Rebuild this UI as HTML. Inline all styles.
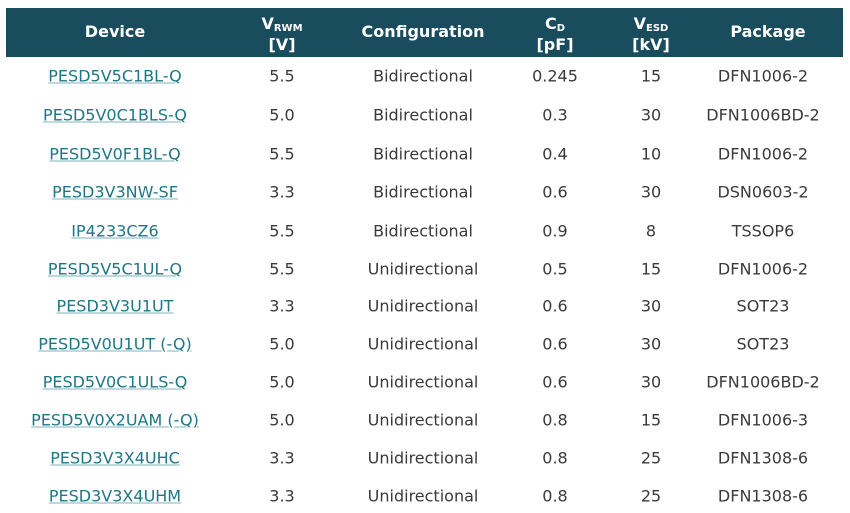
<!DOCTYPE html>
<html><head><meta charset="utf-8"><style>
body{margin:0;width:850px;height:513px;background:#fff;position:relative;overflow:hidden;font-family:"DejaVu Sans","Liberation Sans",sans-serif;}
.hd{position:absolute;left:6px;top:8px;width:837px;height:49px;background:#194c5c;}
.h{position:absolute;color:#fff;font-weight:bold;font-size:16px;text-align:center;transform:translateX(-50%);line-height:16px;white-space:nowrap}
.h sub{font-size:10px;vertical-align:-2px}
.c{position:absolute;font-size:16px;color:#3a3a3a;transform:translate(-50%,-50%);white-space:nowrap}
.l{color:#1f7686;text-decoration:underline;text-decoration-color:#7fb3bd}
</style></head><body>
<div class="hd"></div>
<div class="h" style="left:115px;top:24px">Device</div>
<div class="h" style="left:282px;top:16px">V<sub>RWM</sub><br>[V]</div>
<div class="h" style="left:423px;top:24px">Configuration</div>
<div class="h" style="left:555px;top:16px">C<sub>D</sub><br>[pF]</div>
<div class="h" style="left:651px;top:16px">V<sub>ESD</sub><br>[kV]</div>
<div class="h" style="left:768px;top:24px">Package</div>
<div id="rows"></div>
<script>
var d=[["PESD5V5C1BL-Q","5.5","Bidirectional","0.245","15","DFN1006-2"],
["PESD5V0C1BLS-Q","5.0","Bidirectional","0.3","30","DFN1006BD-2"],
["PESD5V0F1BL-Q","5.5","Bidirectional","0.4","10","DFN1006-2"],
["PESD3V3NW-SF","3.3","Bidirectional","0.6","30","DSN0603-2"],
["IP4233CZ6","5.5","Bidirectional","0.9","8","TSSOP6"],
["PESD5V5C1UL-Q","5.5","Unidirectional","0.5","15","DFN1006-2"],
["PESD3V3U1UT","3.3","Unidirectional","0.6","30","SOT23"],
["PESD5V0U1UT (-Q)","5.0","Unidirectional","0.6","30","SOT23"],
["PESD5V0C1ULS-Q","5.0","Unidirectional","0.6","30","DFN1006BD-2"],
["PESD5V0X2UAM (-Q)","5.0","Unidirectional","0.8","15","DFN1006-3"],
["PESD3V3X4UHC","3.3","Unidirectional","0.8","25","DFN1308-6"],
["PESD3V3X4UHM","3.3","Unidirectional","0.8","25","DFN1308-6"]];
var ys=[76,115,154,192,231,269,306,344,382,420,458,496];
var xs=[115,282,423,555,651,763];var h="";
d.forEach(function(r,i){r.forEach(function(t,j){h+='<div class="c'+(j==0?' l':'')+'" style="left:'+xs[j]+'px;top:'+ys[i]+'px">'+t+'</div>';});});
document.getElementById("rows").innerHTML=h;
</script>
</body></html>
